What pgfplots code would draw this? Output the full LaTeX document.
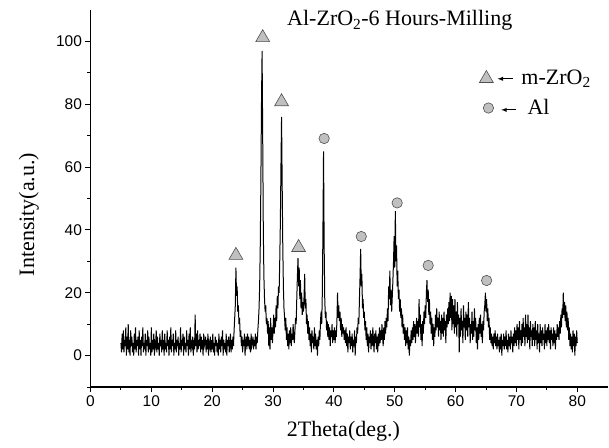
\documentclass[border=0pt]{standalone}
\usepackage{pgfplots}
\pgfplotsset{compat=1.18}
\usepackage{fontspec}
\setmainfont{Liberation Serif}
\newfontfamily\ticksf{Liberation Sans}
\definecolor{mkfill}{RGB}{192,192,192}
\definecolor{mkdraw}{RGB}{80,80,80}
\begin{document}
\begin{tikzpicture}
\begin{axis}[
  name=ax,
  scale only axis,
  width=517.2bp, height=377bp,
  xmin=0, xmax=85, ymin=-10, ymax=110,
  axis x line*=bottom, axis y line*=left,
  axis line style={-, line width=1.1bp},
  xtick={0,10,...,80}, minor xtick={5,15,...,75},
  ytick={0,20,...,100}, minor ytick={-10,10,30,50,70,90},
  tick align=outside,
  major tick length=5bp, minor tick length=3bp,
  tick style={line width=1bp, black},
  /pgf/number format/assume math mode=true,
  ticklabel style={font=\ticksf\fontsize{15.5bp}{17bp}\selectfont},
  every axis x label/.style={at={(axis description cs:0.489,-0.1326)}, anchor=base},
  every axis y label/.style={at={(axis description cs:-0.119,0.4576)}, anchor=center, rotate=90},
  xlabel={\fontsize{22bp}{25bp}\selectfont 2Theta(deg.)},
  ylabel={\fontsize{22bp}{25bp}\selectfont Intensity(a.u.)},
  clip=false,
]
\addplot[black, line width=1bp] coordinates {
(5.0,4)(5.1,1)(5.2,7)(5.3,2)(5.4,8)(5.5,1)(5.6,5)(5.7,3)(5.8,9)(5.9,0)
(6.0,6)(6.1,2)(6.2,10)(6.3,1)(6.4,5)(6.5,0)(6.6,8)(6.7,3)(6.8,6)(6.9,1)
(7.0,4)(7.1,0)(7.2,7)(7.3,2)(7.4,9)(7.5,1)(7.6,5)(7.7,3)(7.8,6)(7.9,0)
(8.0,8)(8.1,2)(8.2,5)(8.3,0)(8.4,6)(8.5,3)(8.6,9)(8.7,1)(8.8,4)(8.9,2)
(9.0,7)(9.1,0)(9.2,5)(9.3,3)(9.4,8)(9.5,1)(9.6,6)(9.7,2)(9.8,4)(9.9,0)
(10.0,9)(10.1,1)(10.2,5)(10.3,2)(10.4,7)(10.5,0)(10.6,4)(10.7,3)(10.8,8)(10.9,1)
(11.0,6)(11.1,2)(11.2,4)(11.3,0)(11.4,7)(11.5,3)(11.6,5)(11.7,1)(11.8,8)(11.9,2)
(12.0,5)(12.1,0)(12.2,7)(12.3,2)(12.4,4)(12.5,1)(12.6,8)(12.7,3)(12.8,5)(12.9,0)
(13.0,6)(13.1,2)(13.2,9)(13.3,1)(13.4,5)(13.5,3)(13.6,7)(13.7,0)(13.8,4)(13.9,2)
(14.0,8)(14.1,1)(14.2,5)(14.3,3)(14.4,6)(14.5,0)(14.6,4)(14.7,2)(14.8,9)(14.9,1)
(15.0,5)(15.1,3)(15.2,7)(15.3,0)(15.4,6)(15.5,2)(15.6,4)(15.7,1)(15.8,8)(15.9,3)
(16.0,5)(16.1,0)(16.2,7)(16.3,2)(16.4,9)(16.5,1)(16.6,4)(16.7,3)(16.8,6)(16.9,0)
(17.0,5)(17.1,2)(17.2,13)(17.3,3)(17.4,7)(17.5,1)(17.6,8)(17.7,2)(17.8,5)(17.9,3)
(18.0,7)(18.1,1)(18.2,6)(18.3,2)(18.4,5)(18.5,0)(18.6,7)(18.7,3)(18.8,4)(18.9,6)
(19.0,1)(19.1,5)(19.2,2)(19.3,7)(19.4,0)(19.5,4)(19.6,3)(19.7,6)(19.8,1)(19.9,5)
(20.0,2)(20.1,7)(20.2,1)(20.3,4)(20.4,0)(20.5,6)(20.6,3)(20.7,5)(20.8,1)(20.9,4)
(21.0,0)(21.1,7)(21.2,2)(21.3,5)(21.4,1)(21.5,6)(21.6,3)(21.7,8)(21.8,0)(21.9,5)
(22.0,2)(22.1,4)(22.2,1)(22.3,7)(22.4,0)(22.5,5)(22.6,3)(22.7,6)(22.8,1)(22.9,4)
(23.0,7)(23.1,1)(23.2,5)(23.3,2)(23.4,6)(23.5,3)(23.6,8)(23.7,12)(23.8,16)(23.9,28)
(24.0,19)(24.1,22)(24.2,14)(24.3,16)(24.4,10)(24.5,12)(24.6,6)(24.7,8)(24.8,3)(24.9,6)
(25.0,1)(25.1,5)(25.2,3)(25.3,7)(25.4,0)(25.5,4)(25.6,6)(25.7,2)(25.8,7)(25.9,3)
(26.0,6)(26.1,2)(26.2,5)(26.3,1)(26.4,7)(26.5,3)(26.6,4)(26.7,6)(26.8,2)(26.9,5)
(27.0,3)(27.1,7)(27.2,2)(27.3,6)(27.4,4)(27.5,8)(27.6,11)(27.7,15)(27.8,22)(27.9,35)
(28.0,55)(28.1,80)(28.2,97)(28.3,70)(28.4,40)(28.5,25)(28.6,18)(28.7,14)(28.8,16)(28.9,10)
(29.0,12)(29.1,7)(29.2,11)(29.3,3)(29.4,9)(29.5,2)(29.6,12)(29.7,5)(29.8,9)(29.9,4)
(30.0,8)(30.1,13)(30.2,7)(30.3,12)(30.4,9)(30.5,16)(30.6,11)(30.7,19)(30.8,15)(30.9,22)
(31.0,20)(31.1,30)(31.2,42)(31.3,60)(31.4,76)(31.5,55)(31.6,35)(31.7,22)(31.8,15)(31.9,12)
(32.0,8)(32.1,12)(32.2,5)(32.3,9)(32.4,3)(32.5,7)(32.6,2)(32.7,8)(32.8,4)(32.9,9)
(33.0,3)(33.1,7)(33.2,5)(33.3,10)(33.4,6)(33.5,4)(33.6,8)(33.7,12)(33.8,10)(33.9,18)
(34.0,25)(34.1,31)(34.2,22)(34.3,28)(34.4,18)(34.5,24)(34.6,15)(34.7,20)(34.8,13)(34.9,17)
(35.0,14)(35.1,19)(35.2,26)(35.3,15)(35.4,18)(35.5,10)(35.6,13)(35.7,7)(35.8,11)(35.9,5)
(36.0,9)(36.1,3)(36.2,7)(36.3,1)(36.4,8)(36.5,4)(36.6,6)(36.7,2)(36.8,9)(36.9,3)
(37.0,7)(37.1,2)(37.2,5)(37.3,0)(37.4,6)(37.5,3)(37.6,8)(37.7,5)(37.8,11)(37.9,14)
(38.0,10)(38.1,20)(38.2,40)(38.3,65)(38.4,35)(38.5,18)(38.6,12)(38.7,14)(38.8,8)(38.9,11)
(39.0,6)(39.1,10)(39.2,5)(39.3,9)(39.4,3)(39.5,8)(39.6,6)(39.7,10)(39.8,4)(39.9,8)
(40.0,5)(40.1,9)(40.2,4)(40.3,8)(40.4,6)(40.5,11)(40.6,20)(40.7,12)(40.8,16)(40.9,11)
(41.0,14)(41.1,8)(41.2,12)(41.3,6)(41.4,10)(41.5,7)(41.6,9)(41.7,5)(41.8,8)(41.9,4)
(42.0,9)(42.1,3)(42.2,7)(42.3,1)(42.4,6)(42.5,4)(42.6,8)(42.7,2)(42.8,6)(42.9,3)
(43.0,7)(43.1,1)(43.2,5)(43.3,3)(43.4,8)(43.5,0)(43.6,6)(43.7,4)(43.8,9)(43.9,7)
(44.0,12)(44.1,10)(44.2,18)(44.3,25)(44.4,34)(44.5,22)(44.6,26)(44.7,15)(44.8,18)(44.9,12)
(45.0,14)(45.1,8)(45.2,11)(45.3,5)(45.4,9)(45.5,3)(45.6,7)(45.7,1)(45.8,6)(45.9,4)
(46.0,8)(46.1,2)(46.2,7)(46.3,3)(46.4,9)(46.5,5)(46.6,1)(46.7,7)(46.8,4)(46.9,8)
(47.0,2)(47.1,6)(47.2,1)(47.3,7)(47.4,3)(47.5,9)(47.6,4)(47.7,8)(47.8,5)(47.9,10)
(48.0,6)(48.1,3)(48.2,9)(48.3,5)(48.4,11)(48.5,7)(48.6,12)(48.7,9)(48.8,15)(48.9,11)
(49.0,22)(49.1,18)(49.2,27)(49.3,16)(49.4,21)(49.5,14)(49.6,19)(49.7,24)(49.8,30)(49.9,38)
(50.0,28)(50.1,46)(50.2,30)(50.3,35)(50.4,22)(50.5,27)(50.6,18)(50.7,21)(50.8,14)(50.9,18)
(51.0,12)(51.1,15)(51.2,9)(51.3,13)(51.4,7)(51.5,10)(51.6,5)(51.7,9)(51.8,3)(51.9,8)
(52.0,4)(52.1,9)(52.2,2)(52.3,6)(52.4,0)(52.5,5)(52.6,3)(52.7,8)(52.8,4)(52.9,9)
(53.0,5)(53.1,11)(53.2,6)(53.3,10)(53.4,4)(53.5,8)(53.6,12)(53.7,7)(53.8,11)(53.9,6)
(54.0,18)(54.1,9)(54.2,13)(54.3,5)(54.4,10)(54.5,3)(54.6,11)(54.7,7)(54.8,14)(54.9,10)
(55.0,16)(55.1,12)(55.2,20)(55.3,24)(55.4,17)(55.5,21)(55.6,13)(55.7,18)(55.8,10)(55.9,14)
(56.0,7)(56.1,12)(56.2,5)(56.3,10)(56.4,3)(56.5,9)(56.6,6)(56.7,13)(56.8,8)(56.9,15)
(57.0,9)(57.1,12)(57.2,6)(57.3,14)(57.4,8)(57.5,11)(57.6,5)(57.7,13)(57.8,7)(57.9,12)
(58.0,6)(58.1,14)(58.2,8)(58.3,11)(58.4,4)(58.5,13)(58.6,9)(58.7,15)(58.8,10)(58.9,17)
(59.0,11)(59.1,20)(59.2,12)(59.3,19)(59.4,8)(59.5,18)(59.6,10)(59.7,16)(59.8,7)(59.9,18)
(60.0,9)(60.1,14)(60.2,6)(60.3,17)(60.4,10)(60.5,13)(60.6,1)(60.7,12)(60.8,6)(60.9,15)
(61.0,8)(61.1,11)(61.2,4)(61.3,16)(61.4,9)(61.5,12)(61.6,5)(61.7,14)(61.8,8)(61.9,13)
(62.0,6)(62.1,17)(62.2,9)(62.3,12)(62.4,4)(62.5,10)(62.6,7)(62.7,14)(62.8,5)(62.9,11)
(63.0,6)(63.1,15)(63.2,8)(63.3,12)(63.4,4)(63.5,9)(63.6,2)(63.7,10)(63.8,5)(63.9,12)
(64.0,7)(64.1,13)(64.2,6)(64.3,10)(64.4,4)(64.5,11)(64.6,8)(64.7,14)(64.8,16)(64.9,20)
(65.0,14)(65.1,18)(65.2,11)(65.3,15)(65.4,9)(65.5,12)(65.6,5)(65.7,9)(65.8,4)(65.9,7)
(66.0,3)(66.1,6)(66.2,2)(66.3,7)(66.4,4)(66.5,8)(66.6,3)(66.7,6)(66.8,2)(66.9,7)
(67.0,3)(67.1,5)(67.2,1)(67.3,6)(67.4,2)(67.5,7)(67.6,0)(67.7,5)(67.8,3)(67.9,7)
(68.0,2)(68.1,6)(68.2,3)(68.3,8)(68.4,2)(68.5,5)(68.6,1)(68.7,7)(68.8,3)(68.9,6)
(69.0,2)(69.1,8)(69.2,4)(69.3,6)(69.4,1)(69.5,7)(69.6,3)(69.7,9)(69.8,4)(69.9,8)
(70.0,3)(70.1,10)(70.2,5)(70.3,9)(70.4,2)(70.5,11)(70.6,5)(70.7,8)(70.8,3)(70.9,10)
(71.0,4)(71.1,12)(71.2,6)(71.3,9)(71.4,3)(71.5,13)(71.6,6)(71.7,10)(71.8,4)(71.9,13)
(72.0,5)(72.1,9)(72.2,2)(72.3,11)(72.4,6)(72.5,8)(72.6,3)(72.7,10)(72.8,5)(72.9,9)
(73.0,3)(73.1,11)(73.2,5)(73.3,8)(73.4,2)(73.5,10)(73.6,4)(73.7,7)(73.8,1)(73.9,10)
(74.0,4)(74.1,8)(74.2,3)(74.3,9)(74.4,5)(74.5,7)(74.6,2)(74.7,10)(74.8,4)(74.9,8)
(75.0,3)(75.1,9)(75.2,5)(75.3,10)(75.4,4)(75.5,8)(75.6,2)(75.7,9)(75.8,5)(75.9,7)
(76.0,3)(76.1,9)(76.2,4)(76.3,8)(76.4,2)(76.5,7)(76.6,5)(76.7,10)(76.8,6)(76.9,9)
(77.0,5)(77.1,11)(77.2,7)(77.3,13)(77.4,9)(77.5,15)(77.6,12)(77.7,20)(77.8,13)(77.9,17)
(78.0,11)(78.1,16)(78.2,9)(78.3,14)(78.4,8)(78.5,12)(78.6,5)(78.7,9)(78.8,3)(78.9,7)
(79.0,2)(79.1,6)(79.2,1)(79.3,8)(79.4,3)(79.5,7)(79.6,0)(79.7,6)(79.8,3)(79.9,8)
(80.0,4)
};
% peak markers: m-ZrO2
\addplot[only marks, mark=triangle*, mark size=8bp, mark options={fill=mkfill, draw=mkdraw, line width=0.6bp}]
 coordinates {(23.9,31.9)(28.3,101.2)(31.4,80.8)(34.2,34.4)(65.06,88.2)};
% peak markers: Al
\addplot[only marks, mark=*, mark size=5.2bp, mark options={fill=mkfill, draw=mkdraw, line width=0.6bp}]
 coordinates {(38.4,69.1)(44.5,37.9)(50.4,48.6)(55.5,28.7)(65.1,23.9)(65.4,78.8)};
% legend arrows and text
\draw[-latex, line width=0.9bp] (axis cs:69.4,88.1) -- (axis cs:66.9,88.1);
\draw[-latex, line width=0.9bp] (axis cs:70.0,78.2) -- (axis cs:67.5,78.2);
\node[anchor=base west, inner sep=0pt, font=\fontsize{22bp}{25bp}\selectfont] at (axis cs:70.8,86.2) {m-ZrO\textsubscript{2}};
\node[anchor=base west, inner sep=0pt, font=\fontsize{22bp}{25bp}\selectfont] at (axis cs:71.8,76.6) {Al};
% title
\node[anchor=base west, inner sep=0pt, font=\fontsize{22bp}{25bp}\selectfont] at (axis description cs:0.380,0.9576) {Al-ZrO\textsubscript{2}-6 Hours-Milling};
\end{axis}
\path (ax.south west) ++(-90.5bp,-61bp) rectangle ([shift={(1.3bp,10bp)}]ax.north east);
\end{tikzpicture}
\end{document}
